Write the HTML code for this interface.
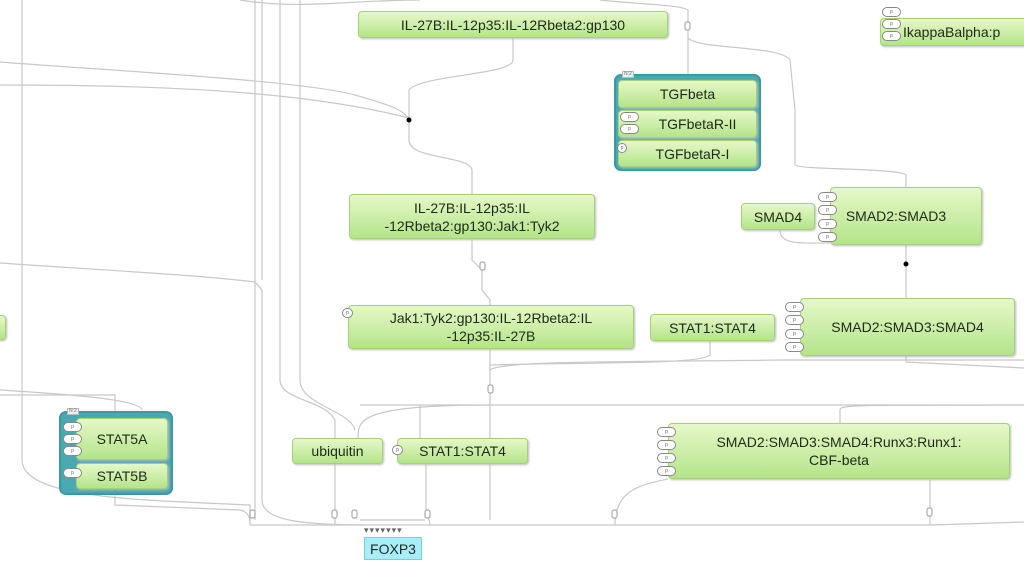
<!DOCTYPE html>
<html><head><meta charset="utf-8"><style>
html,body{margin:0;padding:0;width:1024px;height:566px;overflow:hidden;background:#fff;font-family:"Liberation Sans",sans-serif;}
.n{position:absolute;box-sizing:border-box;background:linear-gradient(#e6f8c8,#b4e48a);border:1px solid #a6d07a;border-radius:4px;color:#1e2a18;font-size:14px;display:flex;align-items:center;justify-content:center;text-align:center;line-height:18px;box-shadow:1px 1px 2px #bbb;}
.cx{position:absolute;box-sizing:border-box;background:#4aa8b0;border:2px solid #3a9aa4;border-radius:7px;}
.b{position:absolute;box-sizing:border-box;background:#fff;border:1px solid #888;border-radius:5px;font-size:5px;color:#666;width:19px;height:10px;line-height:8px;text-align:center;}
.lab{position:absolute;font-size:5px;color:#777;background:#eee;border:1px solid #bbb;padding:0 1px;line-height:5px;}
</style></head><body>
<svg width="1024" height="566" style="position:absolute;left:0;top:0" fill="none" stroke="#c8c8c8" stroke-width="1.2">
<path d="M0,62 C100,70 300,80 355,95 C390,105 405,110 409,120"/>
<path d="M0,85 C150,85 300,90 409,118"/>
<path d="M513,38 L513,60 C513,75 420,75 409,90 L409,120"/>
<path d="M409,120 L409,140 C409,160 470,155 472,170 L472,194"/>
<path d="M472,239 L472,260 L482,270 L482,290 L490,300 L490,305"/>
<path d="M490,349 L490,520"/>
<path d="M490,370 C500,360 650,362 780,360 L1024,360"/>
<path d="M490,395 L490,405 C360,405 358,420 358,438"/>
<path d="M360,405 L1024,405"/>
<path d="M420,405 L420,438"/>
<path d="M0,263 C100,270 200,275 255,282 L262,290 L262,500 C262,520 300,525 365,525"/>
<path d="M0,395 L115,395 L115,411"/>
<path d="M0,390 C80,395 140,400 142,410"/>
<path d="M22,0 L22,460 C22,500 150,500 250,505 L250,525"/>
<path d="M255,0 L255,520"/>
<path d="M262,0 L262,280"/>
<path d="M280,0 L280,380 C280,400 325,400 335,420 L335,525"/>
<path d="M300,0 L300,380 C300,405 350,410 355,430"/>
<path d="M240,0 C300,10 350,0 420,0"/>
<path d="M600,0 C650,5 680,5 688,10 L688,74"/>
<path d="M688,38 C700,50 780,45 790,60 L795,110 L795,165 C800,170 900,168 906,175 L906,187"/>
<path d="M906,245 L906,298"/>
<path d="M780,230 C780,245 800,243 830,243"/>
<path d="M710,341 L710,355 C700,365 580,362 490,365"/>
<path d="M906,356 L906,362 L1024,368"/>
<path d="M115,494 L115,505 L240,510 C250,512 250,520 250,525"/>
<path d="M426,464 L426,505 C426,515 430,520 430,525"/>
<path d="M250,525 L930,525 L1024,522"/>
<path d="M668,479 C640,485 615,490 615,525"/>
<path d="M930,525 L930,480"/>
<path d="M840,423 L840,410 C840,405 850,405 1024,405"/>
<path d="M360,520 L425,520"/>
<g fill="#fff" stroke="#aaa"><rect x="250" y="510" width="5" height="8" rx="2"/><rect x="332" y="510" width="5" height="8" rx="2"/><rect x="352" y="510" width="5" height="8" rx="2"/><rect x="425" y="510" width="5" height="8" rx="2"/><rect x="612" y="510" width="5" height="8" rx="2"/><rect x="927" y="508" width="5" height="8" rx="2"/><rect x="480" y="262" width="5" height="8" rx="2"/><rect x="488" y="385" width="5" height="8" rx="2"/><rect x="685" y="22" width="5" height="8" rx="2"/></g>
<g fill="#000" stroke="none"><circle cx="409" cy="120" r="2.5"/><circle cx="906" cy="264" r="2.5"/></g>
<g fill="#666" stroke="none" font-size="9"><text x="364" y="533" letter-spacing="1">▾▾▾▾▾▾▾</text></g>
</svg>

<div class="n" style="left:358px;top:11px;width:310px;height:27px;">IL-27B:IL-12p35:IL-12Rbeta2:gp130</div>
<div class="n" style="left:880px;top:18px;width:150px;height:28px;justify-content:flex-start;padding-left:22px;">IkappaBalpha:p</div>
<div class="b" style="left:882px;top:7px">p</div><div class="b" style="left:882px;top:19px">p</div><div class="b" style="left:882px;top:31px">p</div>

<div class="cx" style="left:614px;top:74px;width:147px;height:97px;"></div>
<div class="lab" style="left:622px;top:71px">N:2</div>
<div class="n" style="left:618px;top:80px;width:139px;height:28px;">TGFbeta</div>
<div class="n" style="left:618px;top:110px;width:139px;height:28px;padding-left:20px">TGFbetaR-II</div>
<div class="n" style="left:618px;top:140px;width:139px;height:27px;padding-left:10px">TGFbetaR-I</div>
<div class="b" style="left:620px;top:112px">p</div><div class="b" style="left:620px;top:124px">p</div>
<div class="b" style="left:617px;top:143px;width:10px">p</div>

<div class="n" style="left:349px;top:194px;width:246px;height:45px;">IL-27B:IL-12p35:IL<br>-12Rbeta2:gp130:Jak1:Tyk2</div>
<div class="n" style="left:741px;top:203px;width:74px;height:27px;">SMAD4</div>
<div class="n" style="left:830px;top:187px;width:152px;height:58px;padding-right:20px">SMAD2:SMAD3</div>
<div class="b" style="left:818px;top:192px">p</div><div class="b" style="left:818px;top:205px">p</div><div class="b" style="left:818px;top:219px">p</div><div class="b" style="left:818px;top:232px">p</div>

<div class="n" style="left:348px;top:305px;width:286px;height:44px;">Jak1:Tyk2:gp130:IL-12Rbeta2:IL<br>-12p35:IL-27B</div>
<div class="b" style="left:342px;top:308px;width:11px">p</div>
<div class="n" style="left:650px;top:314px;width:125px;height:27px;">STAT1:STAT4</div>
<div class="n" style="left:800px;top:298px;width:215px;height:58px;">SMAD2:SMAD3:SMAD4</div>
<div class="b" style="left:785px;top:302px">p</div><div class="b" style="left:785px;top:315px">p</div><div class="b" style="left:785px;top:329px">p</div><div class="b" style="left:785px;top:342px">p</div>
<div class="n" style="left:-6px;top:315px;width:12px;height:25px;"></div>

<div class="cx" style="left:59px;top:411px;width:114px;height:84px;"></div>
<div class="lab" style="left:67px;top:408px">N:2</div>
<div class="n" style="left:76px;top:418px;width:92px;height:42px;">STAT5A</div>
<div class="n" style="left:76px;top:463px;width:92px;height:26px;">STAT5B</div>
<div class="b" style="left:63px;top:422px">p</div><div class="b" style="left:63px;top:434px">p</div><div class="b" style="left:63px;top:446px">p</div><div class="b" style="left:63px;top:468px">p</div>

<div class="n" style="left:292px;top:438px;width:91px;height:26px;">ubiquitin</div>
<div class="n" style="left:397px;top:438px;width:131px;height:26px;">STAT1:STAT4</div>
<div class="b" style="left:392px;top:445px;width:11px">p</div>
<div class="n" style="left:668px;top:423px;width:342px;height:56px;">SMAD2:SMAD3:SMAD4:Runx3:Runx1:<br>CBF-beta</div>
<div class="b" style="left:657px;top:427px">p</div><div class="b" style="left:657px;top:440px">p</div><div class="b" style="left:657px;top:453px">p</div><div class="b" style="left:657px;top:466px">p</div>

<div style="position:absolute;left:364px;top:537px;width:58px;height:23px;background:#a8eef4;border:1px solid #7ccfd8;box-sizing:border-box;font-size:14px;color:#1e2a2a;display:flex;align-items:center;justify-content:center;">FOXP3</div>
</body></html>
